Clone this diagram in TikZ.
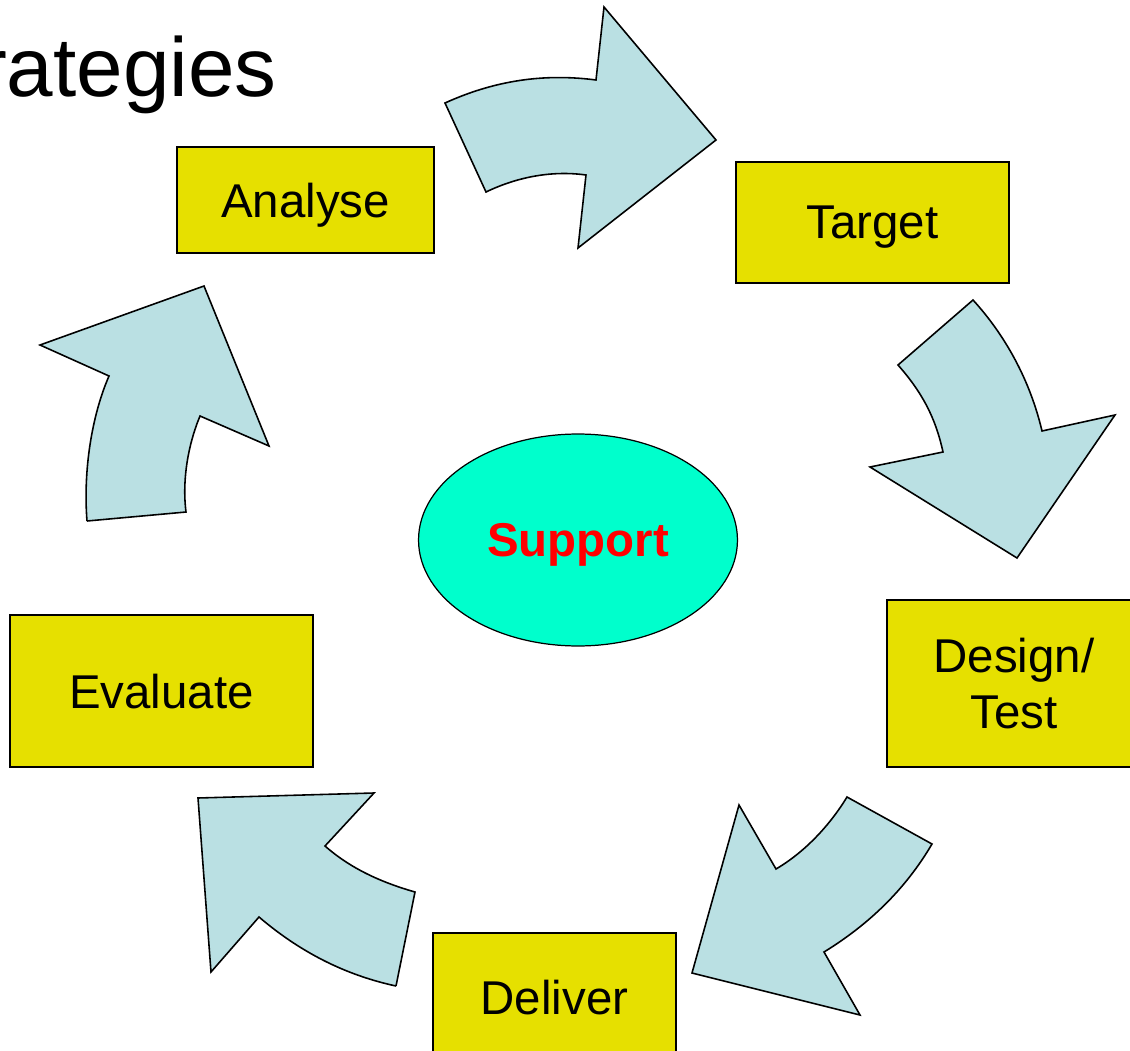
\documentclass[tikz,border=0pt]{standalone}
\usepackage{fontspec}
\setmainfont{Liberation Sans}
\usetikzlibrary{shapes.geometric}

\definecolor{boxyellow}{RGB}{230,224,0}
\definecolor{arrowblue}{RGB}{186,224,227}
\definecolor{ovalgreen}{RGB}{0,255,204}

\begin{document}
\begin{tikzpicture}[x=0.02cm,y=-0.02cm,
    stage/.style={draw=black,line width=1.1pt,fill=boxyellow,inner sep=0pt,text depth=0pt,
      align=center,font=\fontsize{27}{32}\selectfont},
    bentarrow/.style={draw=black,line width=0.9pt,fill=arrowblue,line join=miter}]
  \useasboundingbox (0,0) rectangle (1130,1051);
  %\clip (0,0) rectangle (1130,1051);
  \node[anchor=base east,inner sep=0pt,font=\fontsize{47.6}{56}\selectfont] (title) at (277,97) {Strategies};
  % the five stages
  \node[stage,minimum width=5.14cm,minimum height=2.12cm] (analyse) at (305.5,200) {Analyse};
  \node[stage,minimum width=5.46cm,minimum height=2.42cm] (target) at (872.5,222.5) {Target};
  \node[stage,minimum width=5.08cm,minimum height=3.34cm] (design) at (1014,683.5) {Design/\\Test};
  \node[stage,minimum width=4.86cm,minimum height=2.56cm] (deliver) at (554.5,997) {Deliver};
  \node[stage,minimum width=6.06cm,minimum height=3.04cm] (evaluate) at (161.5,691) {Evaluate};
  % centre
  \node[ellipse,draw=black,line width=0.7pt,fill=ovalgreen,minimum width=6.38cm,minimum height=4.24cm,
    text=red,text depth=0pt,font=\fontsize{27}{32}\selectfont\bfseries] (support) at (578,540) {Support};
  % curved arrows
  \draw[bentarrow] (445,103) .. controls (500,78) and (550,74) .. (596,80) -- (604,7) -- (716,140)
    -- (578,248) -- (586,175) .. controls (550,170) and (515,178) .. (486,192) -- cycle;
  \draw[bentarrow] (973,300) .. controls (1005,335) and (1030,380) .. (1042,431) -- (1115,415)
    -- (1017,558) -- (870,467) -- (943,452) .. controls (935,415) and (920,390) .. (898,365) -- cycle;
  \draw[bentarrow] (932,844) .. controls (905,890) and (868,925) .. (824,952) -- (860,1015)
    -- (692,973) -- (739,805) -- (776,869) .. controls (805,852) and (830,825) .. (847,797) -- cycle;
  \draw[bentarrow] (396,986) -- (415,892) .. controls (380,882) and (350,868) .. (325,846)
    -- (374,793) -- (198,798) -- (211,972) -- (259,917) .. controls (300,952) and (345,975) .. (396,986);
  \draw[bentarrow] (87,521) -- (186,512) .. controls (182,480) and (188,445) .. (200,416)
    -- (269,446) -- (204,286) -- (40,345) -- (109,376) .. controls (92,415) and (83,470) .. (87,521);
\end{tikzpicture}
\end{document}
